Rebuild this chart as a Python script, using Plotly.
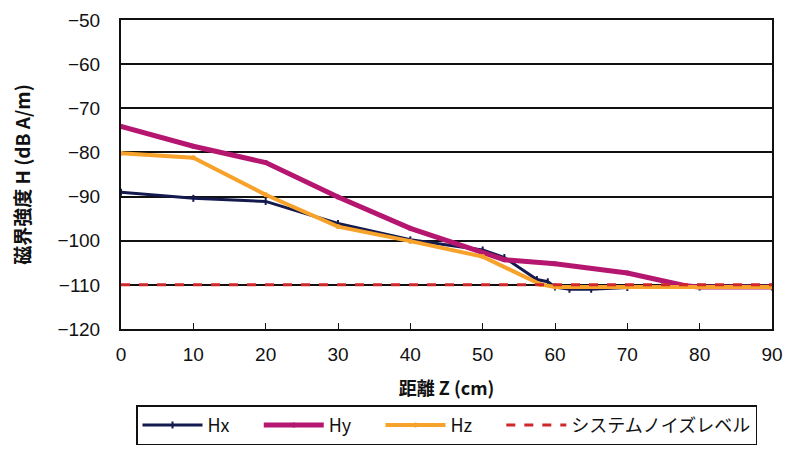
import plotly.graph_objects as go

# Data (distance in cm, magnetic field in dB A/m)
hx_z = [0, 10, 20, 30, 40, 50, 53, 57.5, 59, 60, 62, 65, 70, 80, 90]
hx_v = [-89.0, -90.4, -91.1, -96.1, -99.8, -102.1, -103.8, -108.8, -109.3, -110.5, -111.0, -111.0, -110.6, -110.5, -110.5]

hy_z = [0, 10, 20, 30, 40, 53, 60, 70, 78, 80, 90]
hy_v = [-74.1, -78.6, -82.3, -90.1, -97.2, -104.3, -105.2, -107.3, -110.2, -110.5, -110.5]

hz_z = [0, 10, 20, 30, 40, 50, 58, 60, 70, 80, 90]
hz_v = [-80.2, -81.2, -89.6, -96.8, -100.1, -103.6, -109.9, -110.5, -110.5, -110.5, -110.5]

noise_z = [0, 90]
noise_v = [-110.0, -110.0]

x_ticks = [0, 10, 20, 30, 40, 50, 60, 70, 80, 90]
y_ticks = [-50, -60, -70, -80, -90, -100, -110, -120]

names = ["Hx", "Hy", "Hz", "システムノイズレベル"]

JP = "Noto Sans CJK JP, sans-serif"
NUM = "Liberation Sans, Arial, sans-serif"
NB = "\u00a0"

fig = go.Figure()
fig.add_trace(go.Scatter(x=hx_z, y=hx_v, mode="lines+markers", name=names[0] + NB * 6,
                         line=dict(color="#141a4e", width=3),
                         marker=dict(symbol="line-ns", size=5, line=dict(width=2, color="#141a4e"))))
fig.add_trace(go.Scatter(x=hy_z, y=hy_v, mode="lines+markers", name=names[1] + NB * 6,
                         line=dict(color="#b41670", width=5),
                         marker=dict(symbol="circle", size=5, color="#b41670")))
fig.add_trace(go.Scatter(x=hz_z, y=hz_v, mode="lines+markers", name=names[2] + NB * 6,
                         line=dict(color="#f7a22a", width=4),
                         marker=dict(symbol="circle", size=5, color="#f7a22a")))
fig.add_trace(go.Scatter(x=noise_z, y=noise_v, mode="lines", name=names[3],
                         line=dict(color="#d0282a", width=3, dash="dash")))

fig.update_layout(
    width=776, height=439,
    margin=dict(l=113, r=12, t=12, b=118, autoexpand=False),
    paper_bgcolor="white", plot_bgcolor="white",
    font=dict(family=JP, size=16, color="#111"),
    showlegend=True,
    legend=dict(orientation="h", x=0.5, xanchor="center", y=-0.312, yanchor="middle",
                bordercolor="#111", borderwidth=1.5, bgcolor="white",
                font=dict(size=18, family=JP, color="#111"), traceorder="normal",
                itemwidth=60, tracegroupgap=0),
    xaxis=dict(range=[0, 90], tickvals=x_ticks, ticktext=[str(t) for t in x_ticks],
               showgrid=False, zeroline=False, showline=True, linecolor="#111", linewidth=2,
               mirror=True, ticks="inside", ticklen=6, tickcolor="#111",
               ticklabelstandoff=7, automargin=False,
               tickfont=dict(size=19, family=NUM, color="#111"),
               title=dict(text="<b>距離 Z (cm)</b>", font=dict(size=18, family=JP), standoff=19)),
    yaxis=dict(range=[-120, -50], tickvals=y_ticks, ticktext=[str(t).replace("-", "−") for t in y_ticks],
               showgrid=True, gridcolor="#111", gridwidth=1.5, zeroline=False,
               showline=True, linecolor="#111", linewidth=2, mirror=True, ticks="",
               ticklabelstandoff=15, automargin=False,
               tickfont=dict(size=19, family=NUM, color="#111"),
               title=dict(text="<b>磁界強度 H (dB A/m)</b>", font=dict(size=19, family=JP), standoff=24)),
)

fig.write_html("out.html")
